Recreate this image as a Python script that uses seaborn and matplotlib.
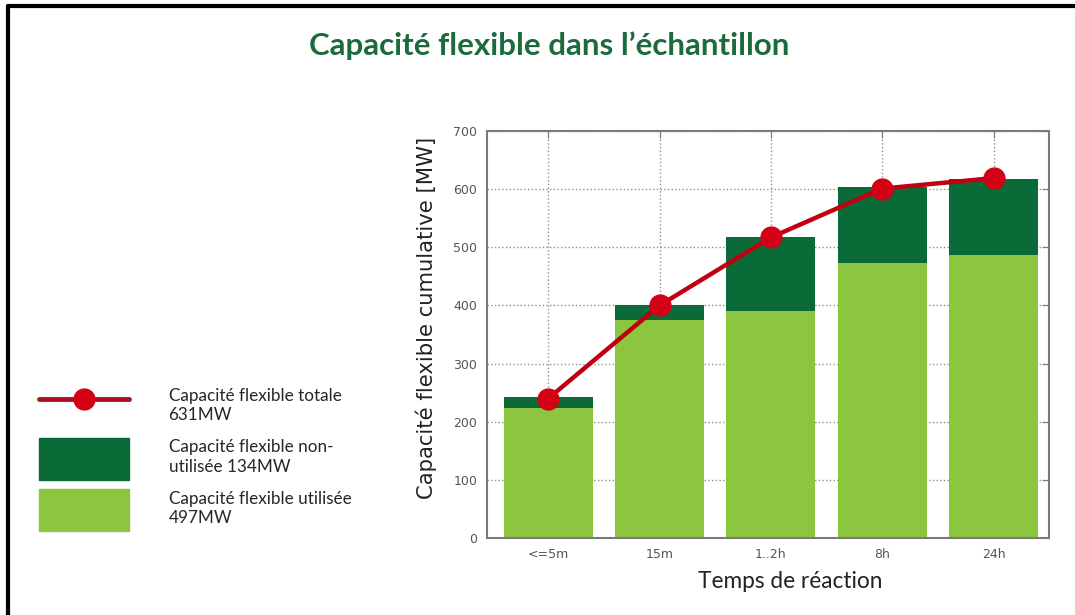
import numpy as np
import pandas as pd
import matplotlib
matplotlib.use("Agg")
import matplotlib.pyplot as plt
import matplotlib.patches as mpatches
from matplotlib.lines import Line2D
import seaborn as sns

# data
categories = ["<=5m", "15m", "1..2h", "8h", "24h"]
total_capacity = [243, 400, 518, 603, 618]   # top of dark bars
used_capacity = [223, 375, 390, 473, 487]    # top of light bars
total_line = [240, 400, 517, 601, 619]       # red curve points
legend_labels = ["Capacité flexible totale\n631MW",
                 "Capacité flexible non-\nutilisée 134MW",
                 "Capacité flexible utilisée\n497MW"]

dark_green = "#0b6b38"
light_green = "#8cc63e"
red = "#c00010"

sns.set_style("white")
plt.rcParams['font.family'] = ['DejaVu Sans']

df = pd.DataFrame({"cat": categories, "total": total_capacity, "used": used_capacity})

fig = plt.figure(figsize=(10.75, 6.15), dpi=100)
ax = fig.add_axes([0.453, 0.125, 0.523, 0.662])

# stacked bars: total (dark) then used (light) on top
sns.barplot(data=df, x="cat", y="total", color=dark_green, width=0.8, saturation=1,
            linewidth=0, ax=ax, zorder=2)
sns.barplot(data=df, x="cat", y="used", color=light_green, width=0.8, saturation=1,
            linewidth=0, ax=ax, zorder=2)

# total capacity curve
ax.plot(np.arange(len(categories)), total_line, color=red, lw=3.2, marker="o",
        markersize=15, markerfacecolor="#d40016", markeredgecolor="#d40016", zorder=4)

ax.set_xlim(-0.55, 4.5)
ax.set_ylim(0, 700)
ax.set_yticks(range(0, 701, 100))
ax.set_axisbelow(True)
ax.grid(True, linestyle=":", color="#909090", linewidth=1)
for sp in ax.spines.values():
    sp.set_visible(True)
    sp.set_color("#7a7a7a")
    sp.set_linewidth(1.5)
ax.tick_params(direction="in", length=5, color="#7a7a7a", top=True, right=True,
               labelsize=9, labelcolor="#555555", pad=7)

ax.set_xlabel("Temps de réaction", fontsize=16.3, family="Lato", color="#222222")
ax.set_ylabel("Capacité flexible cumulative [MW]", fontsize=15.2, color="#222222")
ax.xaxis.set_label_coords(0.54, -0.08)
ax.yaxis.set_label_coords(-0.088, 0.54)

# title
fig.text(0.511, 0.925, "Capacité flexible dans l’échantillon", ha="center", va="center",
         fontsize=22.5, fontweight="bold", family="Lato", color="#1b6b3d")

# legend on the left
handles = [Line2D([0], [0], color="#b01020", lw=3.5, marker="o", markersize=15,
                  markerfacecolor="#d40016", markeredgecolor="#d40016"),
           mpatches.Patch(color=dark_green),
           mpatches.Patch(color=light_green)]
fig.legend(handles, legend_labels, loc="center left", bbox_to_anchor=(0.036, 0.254),
           frameon=False, borderpad=0, borderaxespad=0, handlelength=5.3,
           handleheight=3.4, handletextpad=2.3, labelspacing=0.55,
           prop={"family": "Lato", "size": 12.3})
for t in fig.legends[0].get_texts():
    t.set_linespacing(1.25)

# outer frame (left and top)
fig.add_artist(Line2D([0.0075, 0.0075], [0, 0.99], color="black", lw=3, transform=fig.transFigure))
fig.add_artist(Line2D([0.0075, 1.0], [0.99, 0.99], color="black", lw=3, transform=fig.transFigure))

plt.savefig("out.png", dpi=100)
